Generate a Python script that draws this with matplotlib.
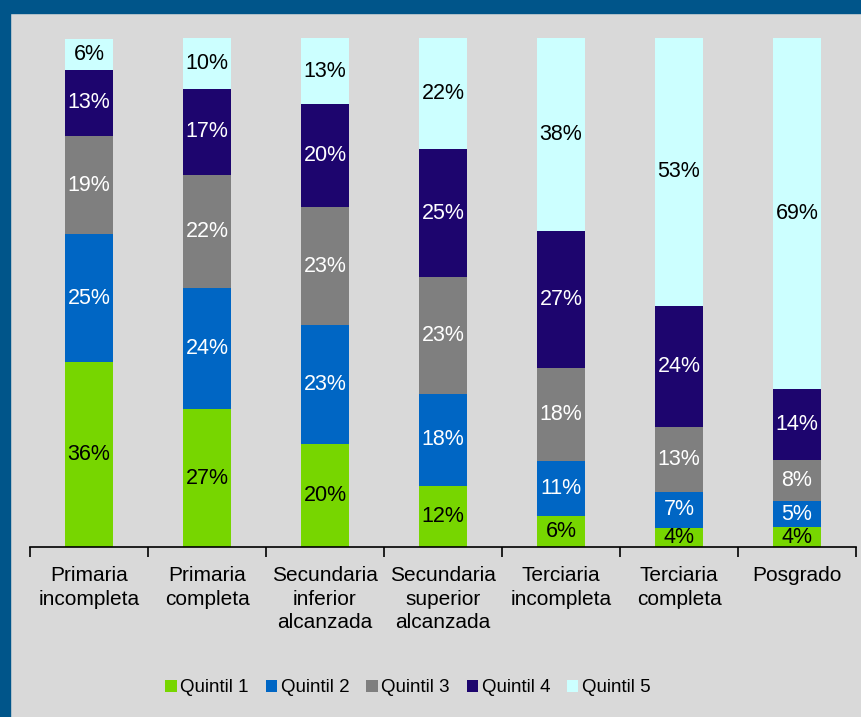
import matplotlib.pyplot as plt
from matplotlib.patches import Patch, Rectangle

plt.rcParams['font.family'] = ['Liberation Sans', 'DejaVu Sans']

categories = ['Primaria\nincompleta', 'Primaria\ncompleta', 'Secundaria\ninferior\nalcanzada',
              'Secundaria\nsuperior\nalcanzada', 'Terciaria\nincompleta', 'Terciaria\ncompleta',
              'Posgrado']
series_names = ['Quintil 1', 'Quintil 2', 'Quintil 3', 'Quintil 4', 'Quintil 5']

# share of each quintile (%) per education level
quintil_1 = [36.3, 27.1, 20.2, 12.0, 6.1, 3.8, 3.9]
quintil_2 = [25.1, 23.8, 23.4, 18.1, 10.8, 7.0, 5.1]
quintil_3 = [19.4, 22.2, 23.2, 23.0, 18.3, 12.8, 8.1]
quintil_4 = [13.0, 16.9, 20.2, 25.0, 26.9, 23.8, 13.9]
quintil_5 = [6.1, 10.0, 13.0, 22.0, 37.9, 52.6, 69.0]

series = [quintil_1, quintil_2, quintil_3, quintil_4, quintil_5]
colors = ['#77d600', '#0066c4', '#7f7f7f', '#1d056e', '#ccffff']
text_colors = ['black', 'white', 'white', 'white', 'black']

fig = plt.figure(figsize=(8.61, 7.17), dpi=100)
fig.patch.set_facecolor('#d9d9d9')

# dark blue frame (left + top)
fig.patches.append(Rectangle((0, 0), 10 / 861, 1, transform=fig.transFigure,
                             color='#00558a', zorder=0))
fig.patches.append(Rectangle((0, 1 - 13 / 717), 1, 13 / 717, transform=fig.transFigure,
                             color='#00558a', zorder=0))

ax = fig.add_axes([30 / 861, 170 / 717, 826 / 861, 509 / 717])
ax.set_facecolor('none')

x = list(range(len(categories)))
bottoms = [0] * len(categories)
for vals, col, tcol in zip(series, colors, text_colors):
    ax.bar(x, vals, width=0.41, bottom=bottoms, color=col, zorder=2)
    for i, v in enumerate(vals):
        ax.text(i, bottoms[i] + v / 2, f'{v:.0f}%', ha='center', va='center',
                fontsize=15.5, color=tcol, zorder=3)
    bottoms = [b + v for b, v in zip(bottoms, vals)]

ax.set_xlim(-0.5, len(categories) - 0.5)
ax.set_ylim(0, 100)
for s in ['top', 'right', 'left']:
    ax.spines[s].set_visible(False)
ax.spines['bottom'].set_linewidth(1.2)
ax.set_yticks([])
ax.set_xticks(x)
ax.set_xticklabels(categories, fontsize=15, linespacing=1.3)
ax.tick_params(axis='x', which='major', length=0, pad=14)
ax.set_xticks([i - 0.5 for i in range(len(categories) + 1)], minor=True)
ax.tick_params(axis='x', which='minor', length=7, width=1.2, direction='out')

handles = [Patch(facecolor=c, edgecolor='none') for c in colors]
fig.legend(handles, series_names, loc='center', bbox_to_anchor=(408 / 861, 1 - 688 / 717),
           ncol=5, frameon=False, fontsize=13.5, handlelength=0.6, handleheight=0.6,
           handletextpad=0.2, columnspacing=0.9)

fig.savefig('out.png', dpi=100, facecolor=fig.get_facecolor())
